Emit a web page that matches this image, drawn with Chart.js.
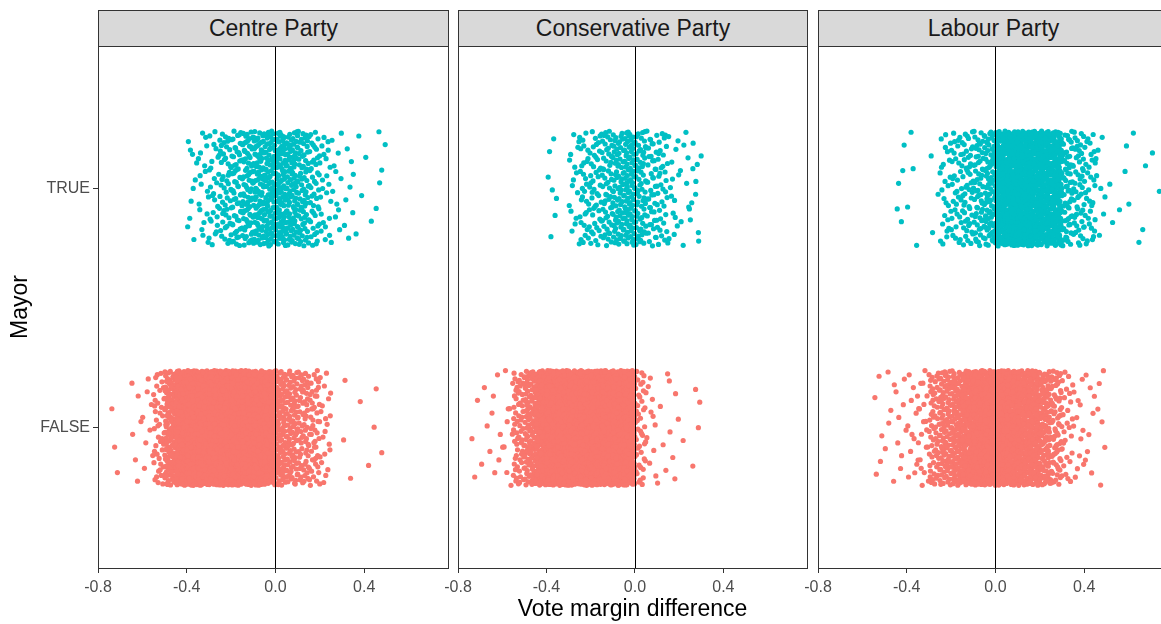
<!DOCTYPE html>
<html>
<head>
<meta charset="utf-8">
<script src="https://cdn.jsdelivr.net/npm/chart.js@4.4.0/dist/chart.umd.min.js"></script>
<style>
  html, body { margin: 0; padding: 0; background: #fff; overflow: hidden; width: 1161px; height: 624px; }
  body { position: relative; font-family: "Liberation Sans", Arial, sans-serif; }
  canvas { position: absolute; }
  .strip { position: absolute; top: 10px; box-sizing: border-box; background: #d9d9d9; border: 1px solid #333;
           color: #1a1a1a; font-size: 23px; text-align: center; }
</style>
</head>
<body>
<canvas id="p0" width="452" height="592" style="left:0px;top:32px"></canvas>
<canvas id="p1" width="378" height="592" style="left:433px;top:32px"></canvas>
<canvas id="p2" width="379" height="592" style="left:793px;top:32px"></canvas>
<script>
var parties = ['Centre Party', 'Conservative Party', 'Labour Party'];
var mayorLevels = ['FALSE', 'TRUE'];
var xTicks = [-0.8, -0.4, 0, 0.4];
var refLine = 0;

// number of points in each 0.05 wide bin of vote margin
// bins run from -0.75 to 0.75
var binStart = -0.75;
var binWidth = 0.05;

var centreFalse = [3, 0, 6, 8, 40, 130, 260, 300, 300, 300, 300, 300, 280, 230, 190,
                   110, 85, 65, 50, 20, 0, 3, 1, 2, 2, 0, 0, 0, 0, 0];
var centreTrue  = [0, 0, 0, 0, 0, 0, 0, 10, 18, 28, 45, 62, 75, 90, 100,
                   100, 85, 68, 45, 22, 12, 7, 4, 2, 5, 0, 0, 0, 0, 0];
var consFalse   = [3, 4, 6, 10, 60, 100, 210, 300, 300, 300, 300, 300, 300, 290, 260,
                   45, 10, 5, 6, 1, 4, 0, 0, 0, 0, 0, 0, 0, 0, 0];
var consTrue    = [0, 0, 0, 0, 0, 0, 0, 7, 0, 16, 35, 42, 55, 70, 85,
                   62, 45, 35, 14, 9, 10, 0, 0, 0, 0, 0, 0, 0, 0, 0];
var labourFalse = [0, 0, 0, 0, 5, 6, 8, 12, 20, 60, 90, 120, 170, 210, 240,
                   240, 220, 190, 160, 110, 70, 25, 12, 8, 6, 0, 0, 0, 0, 0];
var labourTrue  = [0, 0, 0, 0, 0, 0, 5, 4, 0, 3, 25, 35, 48, 62, 80,
                   180, 190, 190, 190, 180, 165, 65, 48, 34, 8, 2, 3, 3, 2, 2];

var seriesByParty = [[centreFalse, centreTrue], [consFalse, consTrue], [labourFalse, labourTrue]];
var colors = ['#F8766D', '#00BFC4'];

Chart.defaults.font.family = '"Liberation Sans", Arial, sans-serif';

// stand-in for geom_jitter: spread each bin's points evenly over the bin
function halton(i, b) {
  var f = 1, r = 0;
  while (i > 0) {
    f = f / b;
    r += f * (i % b);
    i = Math.floor(i / b);
  }
  return r;
}

function jitterPoints(counts, level, seed) {
  var pts = [];
  var k = seed;
  for (var i = 0; i < counts.length; i++) {
    for (var n = 0; n < counts[i]; n++) {
      pts.push({ x: binStart + binWidth * (i + halton(k, 2)), y: level + (halton(k, 3) - 0.5) * 0.48 });
      k++;
    }
  }
  return pts;
}

var panelBox = {
  id: 'panelBox',
  afterDatasetsDraw: function (chart) {
    var a = chart.chartArea;
    var ctx = chart.ctx;
    var x0 = Math.round(chart.scales.x.getPixelForValue(refLine)) + 0.5;
    ctx.save();
    ctx.lineWidth = 1;
    ctx.strokeStyle = '#000';
    ctx.beginPath();
    ctx.moveTo(x0, a.top);
    ctx.lineTo(x0, a.bottom);
    ctx.stroke();
    ctx.strokeStyle = '#333';
    ctx.strokeRect(Math.round(a.left) + 0.5, Math.round(a.top) + 0.5, Math.round(a.width), Math.round(a.height));
    ctx.restore();
  }
};

var padLeft = [0, 25, 25];

for (var p = 0; p < parties.length; p++) {
  var datasets = [];
  for (var m = 0; m < mayorLevels.length; m++) {
    datasets.push({
      label: mayorLevels[m],
      data: jitterPoints(seriesByParty[p][m], m + 1, 1 + 4000 * (2 * p + m)),
      backgroundColor: colors[m],
      borderWidth: 0,
      pointRadius: 2.6
    });
  }

  var canvas = document.getElementById('p' + p);
  var chart = new Chart(canvas.getContext('2d'), {
    type: 'scatter',
    data: { datasets: datasets },
    options: {
      responsive: false,
      animation: false,
      events: [],
      layout: { padding: { left: padLeft[p], right: 3, top: 14, bottom: 0 } },
      plugins: { legend: { display: false }, tooltip: { enabled: false } },
      scales: {
        x: {
          type: 'linear',
          min: -0.8,
          max: 0.778,
          afterBuildTicks: function (s) { s.ticks = xTicks.map(function (v) { return { value: v }; }); },
          afterFit: function (s) { s.height = 56; },
          grid: { display: true, drawOnChartArea: false, drawTicks: true, tickLength: 5, tickColor: '#333', color: '#333' },
          border: { display: false },
          ticks: {
            autoSkip: false, maxRotation: 0, padding: 5, color: '#4d4d4d', font: { size: 16 },
            callback: function (v) { return Number(v).toFixed(1); }
          },
          title: {
            display: p === 1, text: 'Vote margin difference', color: '#000',
            font: { size: 23 }, padding: { top: 0, bottom: 1 }
          }
        },
        y: {
          type: 'linear',
          display: p === 0,
          min: 0.415,
          max: 2.595,
          afterBuildTicks: function (s) { s.ticks = mayorLevels.map(function (l, i) { return { value: i + 1 }; }); },
          afterFit: function (s) { if (s.options.display) s.width = 98; },
          grid: { display: true, drawOnChartArea: false, drawTicks: true, tickLength: 5, tickColor: '#333', color: '#333' },
          border: { display: false },
          ticks: {
            autoSkip: false, padding: 3, color: '#4d4d4d', font: { size: 16 },
            callback: function (v) { return mayorLevels[Math.round(v) - 1]; }
          },
          title: { display: true, text: 'Mayor', color: '#000', font: { size: 23 }, padding: { top: 7, bottom: 0 } }
        }
      }
    },
    plugins: [panelBox]
  });

  // facet strip above the panel
  var a = chart.chartArea;
  var strip = document.createElement('div');
  strip.className = 'strip';
  strip.textContent = parties[p];
  strip.style.left = (canvas.offsetLeft + Math.round(a.left)) + 'px';
  strip.style.width = (Math.round(a.width) + 1) + 'px';
  strip.style.height = '37px';
  strip.style.lineHeight = '35px';
  document.body.appendChild(strip);
}
</script>
</body>
</html>
